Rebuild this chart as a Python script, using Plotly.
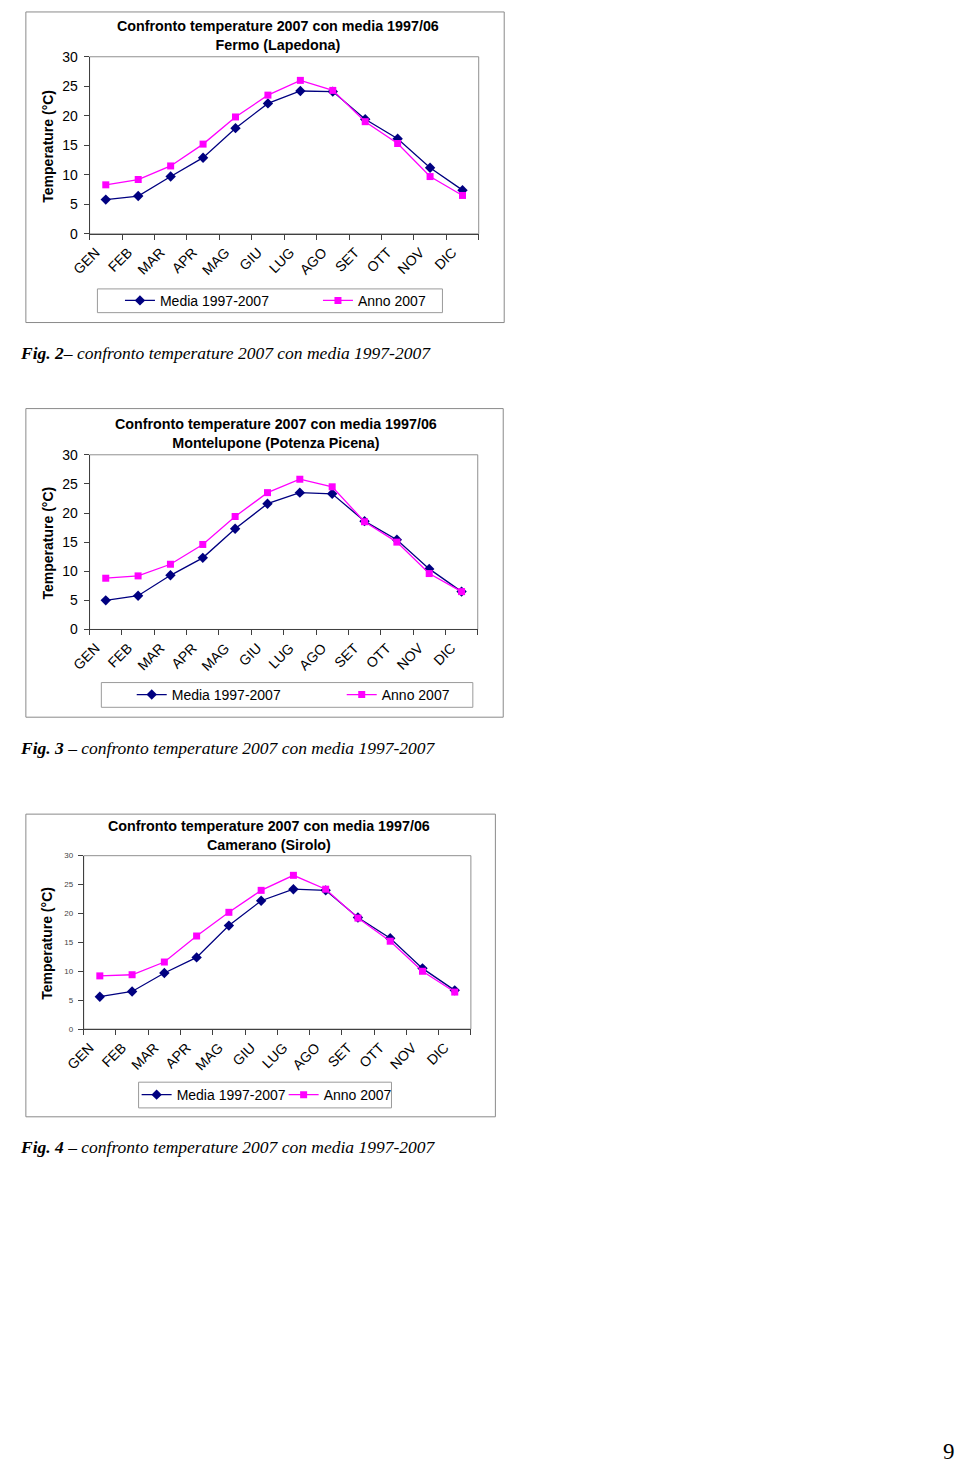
import plotly.graph_objects as go

# ---------------- data ----------------
months = ["GEN", "FEB", "MAR", "APR", "MAG", "GIU", "LUG", "AGO", "SET", "OTT", "NOV", "DIC"]

fermo_media = [5.8, 6.4, 9.7, 12.9, 17.9, 22.1, 24.2, 24.1, 19.4, 16.1, 11.2, 7.4]
fermo_2007 = [8.3, 9.2, 11.5, 15.2, 19.8, 23.5, 26.0, 24.3, 19.0, 15.3, 9.7, 6.5]

montelupone_media = [5.0, 5.8, 9.3, 12.3, 17.3, 21.6, 23.5, 23.3, 18.6, 15.4, 10.4, 6.5]
montelupone_2007 = [8.8, 9.2, 11.2, 14.6, 19.4, 23.5, 25.8, 24.5, 18.5, 15.0, 9.6, 6.5]

camerano_media = [5.6, 6.5, 9.7, 12.4, 17.9, 22.2, 24.2, 24.0, 19.3, 15.7, 10.5, 6.7]
camerano_2007 = [9.2, 9.4, 11.6, 16.1, 20.2, 24.0, 26.6, 24.2, 19.2, 15.2, 10.0, 6.4]

y_ticks = [0, 5, 10, 15, 20, 25, 30]

titles = [
    "Confronto temperature 2007 con media 1997/06<br>Fermo (Lapedona)",
    "Confronto temperature 2007 con media 1997/06<br>Montelupone (Potenza Picena)",
    "Confronto temperature 2007 con media 1997/06<br>Camerano (Sirolo)",
]
captions = [
    "<b><i>Fig. 2</i></b><i>– confronto temperature 2007 con media 1997-2007</i>",
    "<b><i>Fig. 3</i></b><i> – confronto temperature 2007 con media 1997-2007</i>",
    "<b><i>Fig. 4</i></b><i> – confronto temperature 2007 con media 1997-2007</i>",
]
series_names = ["Media 1997-2007", "Anno 2007"]
y_title = "Temperature (°C)"
page_number = "9"

# ---------------- layout helpers ----------------
W, H = 960, 1470


def px(x):
    return x / W


def py(y):
    return 1 - y / H


NAVY = "#000080"
MAGENTA = "#FF00FF"
SANS = "Liberation Sans, Arial, sans-serif"
SERIF = "Liberation Serif, Times New Roman, serif"

charts = [
    dict(media=fermo_media, anno=fermo_2007, plot=(72, 469, 49.3, 228.3), box=(7, 495, 4, 318),
         lbox=(80, 432, 284, 308), legx=103, lw=153, title_x=264, title_y=28, ytitle_x=30,
         cap_y=349, tickfont=14),
    dict(media=montelupone_media, anno=montelupone_2007, plot=(72, 468, 451.7, 628.3), box=(7, 494, 405, 717),
         lbox=(84, 463, 682, 707), legx=115, lw=165, title_x=262, title_y=430, ytitle_x=30,
         cap_y=748, tickfont=14),
    dict(media=camerano_media, anno=camerano_2007, plot=(66, 461, 857, 1032.3), box=(7, 486, 815, 1121),
         lbox=(122, 380, 1086, 1112), legx=120, lw=102, title_x=255, title_y=837, ytitle_x=29,
         cap_y=1152, tickfont=8),
]

fig = go.Figure()
shapes = []
annotations = []
layout_extra = {}

for i, c in enumerate(charts):
    n = "" if i == 0 else str(i + 1)
    xa, ya = "x" + n, "y" + n
    leg = "legend" + n
    x0, x1, yt, yb = c["plot"]

    fig.add_trace(go.Scatter(
        x=months, y=c["media"], name=series_names[0], mode="lines+markers",
        line=dict(color=NAVY, width=1.3), marker=dict(symbol="diamond", size=8, color=NAVY),
        xaxis=xa, yaxis=ya, legend=leg, legendwidth=c["lw"], cliponaxis=False,
    ))
    fig.add_trace(go.Scatter(
        x=months, y=c["anno"], name=series_names[1], mode="lines+markers",
        line=dict(color=MAGENTA, width=1.3), marker=dict(symbol="square", size=7, color=MAGENTA),
        xaxis=xa, yaxis=ya, legend=leg, cliponaxis=False,
    ))

    layout_extra["xaxis" + n] = dict(
        domain=[px(x0), px(x1)], anchor=ya, type="category", range=[-0.5, 11.5],
        tickson="boundaries", ticks="outside", ticklen=5, tickcolor="#404040",
        showline=True, linecolor="#404040", linewidth=1, showgrid=False, zeroline=False,
        tickangle=-45, ticklabelshift=-10, ticklabelstandoff=4,
        tickfont=dict(family=SANS, size=14, color="#000"), fixedrange=True,
    )
    layout_extra["yaxis" + n] = dict(
        domain=[py(yb), py(yt)], anchor=xa, range=[0, 30], tickvals=y_ticks,
        ticks="outside", ticklen=5, tickcolor="#404040", showline=True, linecolor="#404040",
        linewidth=1, showgrid=False, zeroline=False, ticklabelstandoff=3,
        tickfont=dict(family=SANS, size=c["tickfont"], color="#000" if c["tickfont"] > 10 else "#444"),
        fixedrange=True,
    )
    layout_extra[leg] = dict(
        orientation="h", x=px(c["legx"]), xanchor="left",
        y=py((c["lbox"][2] + c["lbox"][3]) / 2), yanchor="middle",
        bgcolor="rgba(0,0,0,0)", borderwidth=0, font=dict(family=SANS, size=14, color="#000"),
        itemclick=False, itemdoubleclick=False,
    )

    # plot area frame
    shapes.append(dict(type="rect", xref=xa + " domain", yref=ya + " domain", x0=0, x1=1, y0=0, y1=1,
                       line=dict(color="#909090", width=1), layer="below"))
    # outer chart box
    bx0, bx1, by0, by1 = c["box"]
    shapes.append(dict(type="rect", xref="paper", yref="paper", x0=px(bx0), x1=px(bx1), y0=py(by1), y1=py(by0),
                       line=dict(color="#8a8a8a", width=1)))
    # legend box
    lx0, lx1, ly0, ly1 = c["lbox"]
    shapes.append(dict(type="rect", xref="paper", yref="paper", x0=px(lx0), x1=px(lx1), y0=py(ly1), y1=py(ly0),
                       line=dict(color="#9a9a9a", width=1)))

    annotations.append(dict(text="<b>" + titles[i].replace("<br>", "</b><br><b>") + "</b>",
                            xref="paper", yref="paper", x=px(c["title_x"]), y=py(c["title_y"]),
                            xanchor="center", yanchor="middle", showarrow=False,
                            font=dict(family=SANS, size=14.3, color="#000")))
    annotations.append(dict(text="<b>" + y_title + "</b>", textangle=-90, xref="paper", yref="paper",
                            x=px(c["ytitle_x"]), y=py((yt + yb) / 2 + 1), xanchor="center", yanchor="middle",
                            showarrow=False, font=dict(family=SANS, size=14, color="#000")))
    annotations.append(dict(text=captions[i], xref="paper", yref="paper", x=px(-1), y=py(c["cap_y"]),
                            xanchor="left", yanchor="middle", showarrow=False,
                            font=dict(family=SERIF, size=17.5, color="#000")))

annotations.append(dict(text=page_number, xref="paper", yref="paper", x=px(949), y=py(1459),
                        xanchor="center", yanchor="middle", showarrow=False,
                        font=dict(family=SERIF, size=23, color="#000")))

fig.update_layout(
    width=W, height=H, margin=dict(l=0, r=0, t=0, b=0),
    paper_bgcolor="white", plot_bgcolor="white",
    shapes=shapes, annotations=annotations, showlegend=True, hovermode=False,
    **layout_extra,
)

fig.write_html(
    "out.html",
    config={"displayModeBar": False},
    post_script="document.body.style.margin='0';document.body.style.overflow='hidden';",
)
